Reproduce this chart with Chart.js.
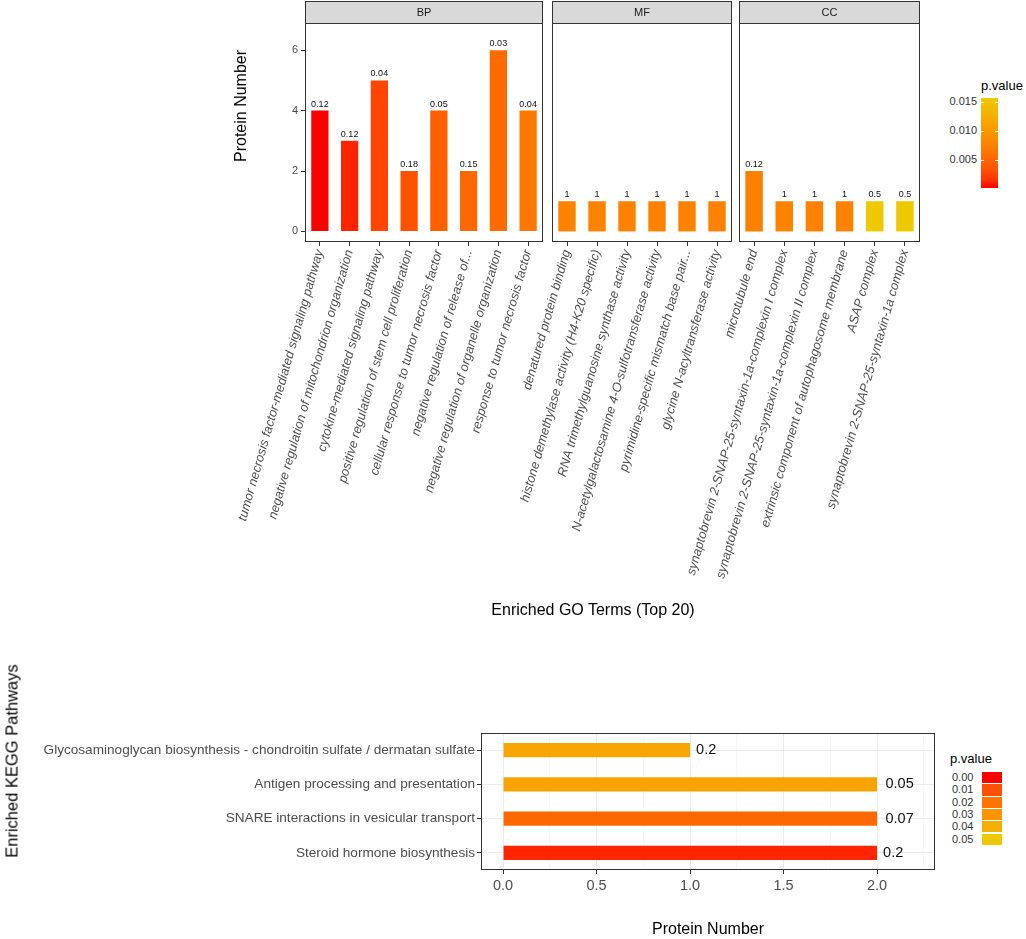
<!DOCTYPE html>
<html>
<head>
<meta charset="utf-8">
<title>Enriched GO Terms and KEGG Pathways</title>
<script src="https://cdn.jsdelivr.net/npm/chart.js@4.4.1/dist/chart.umd.min.js"></script>
<style>
  body { margin: 0; background: #fff; font-family: "Liberation Sans", Arial, sans-serif; }
  #wrap { position: relative; width: 1026px; height: 939px; overflow: hidden; background: #fff; }
  canvas, .txt, .key { position: absolute; }
  .txt { white-space: nowrap; color: #000; }
  .title { font-size: 16px; }
  .rot { transform: translate(-50%, -50%) rotate(-90deg); }
  .legtxt { font-size: 11px; color: #333; }
</style>
</head>
<body>
<div id="wrap">
  <canvas id="bpChart" width="548" height="600" style="left:0;top:0"></canvas>
  <canvas id="mfChart" width="285" height="600" style="left:452px;top:0"></canvas>
  <canvas id="ccChart" width="286" height="600" style="left:639px;top:0"></canvas>
  <canvas id="keggChart" width="940" height="219" style="left:0;top:720px"></canvas>

  <div class="txt title rot" style="left:241px;top:106px">Protein Number</div>
  <div class="txt title" style="left:593px;top:610px;transform:translate(-50%,-50%)">Enriched GO Terms (Top 20)</div>
  <div class="txt title rot" style="left:12px;top:761px;font-size:16.5px">Enriched KEGG Pathways</div>
  <div id="goLegend"></div>
  <div id="keggLegend"></div>
</div>

<script>
// GO terms, one set of arrays per facet
const bpTerms = ['tumor necrosis factor-mediated signaling pathway', 'negative regulation of mitochondrion organization',
  'cytokine-mediated signaling pathway', 'positive regulation of stem cell proliferation',
  'cellular response to tumor necrosis factor', 'negative regulation of release of...',
  'negative regulation of organelle organization', 'response to tumor necrosis factor'];
const bpCounts = [4, 3, 5, 2, 4, 2, 6, 4];
const bpRatio = [0.12, 0.12, 0.04, 0.18, 0.05, 0.15, 0.03, 0.04];
const bpPvalues = [0.00005, 0.0008, 0.0024, 0.0032, 0.0043, 0.0051, 0.0053, 0.0066];

const mfTerms = ['denatured protein binding', 'histone demethylase activity (H4-K20 specific)',
  'RNA trimethylguanosine synthase activity', 'N-acetylgalactosamine 4-O-sulfotransferase activity',
  'pyrimidine-specific mismatch base pair...', 'glycine N-acyltransferase activity'];
const mfCounts = [1, 1, 1, 1, 1, 1];
const mfRatio = [1, 1, 1, 1, 1, 1];
const mfPvalues = [0.0076, 0.0076, 0.0076, 0.0076, 0.0076, 0.0076];

const ccTerms = ['microtubule end', 'synaptobrevin 2-SNAP-25-syntaxin-1a-complexin I complex',
  'synaptobrevin 2-SNAP-25-syntaxin-1a-complexin II complex', 'extrinsic component of autophagosome membrane',
  'ASAP complex', 'synaptobrevin 2-SNAP-25-syntaxin-1a complex'];
const ccCounts = [2, 1, 1, 1, 1, 1];
const ccRatio = [0.12, 1, 1, 1, 0.5, 0.5];
const ccPvalues = [0.0074, 0.0076, 0.0076, 0.0076, 0.0157, 0.0157];

const goTicks = [0, 2, 4, 6];
const goRange = [0.00005, 0.0157];
const goLegendBreaks = [0.005, 0.010, 0.015];

// KEGG pathways (top to bottom)
const keggTerms = ['Glycosaminoglycan biosynthesis - chondroitin sulfate / dermatan sulfate',
  'Antigen processing and presentation', 'SNARE interactions in vesicular transport', 'Steroid hormone biosynthesis'];
const keggCounts = [1, 2, 2, 2];
const keggRatio = [0.2, 0.05, 0.07, 0.2];
const keggPvalues = [0.0365, 0.036, 0.016, 0.0025];
const keggTicks = [0, 0.5, 1, 1.5, 2];
const keggRange = [0, 0.05];
const keggLegendBreaks = [0, 0.01, 0.02, 0.03, 0.04, 0.05];

const FONT = '"Liberation Sans", Arial, sans-serif';

// red -> gold gradient, interpolated in Lab like ggplot does
function hexToLab(hex) {
  const v = [1, 3, 5].map(i => parseInt(hex.substr(i, 2), 16) / 255)
    .map(c => c <= 0.04045 ? c / 12.92 : Math.pow((c + 0.055) / 1.055, 2.4));
  const x = (0.4124 * v[0] + 0.3576 * v[1] + 0.1805 * v[2]) / 0.95047;
  const y = 0.2126 * v[0] + 0.7152 * v[1] + 0.0722 * v[2];
  const z = (0.0193 * v[0] + 0.1192 * v[1] + 0.9505 * v[2]) / 1.08883;
  const f = t => t > 0.008856 ? Math.cbrt(t) : 7.787 * t + 16 / 116;
  return [116 * f(y) - 16, 500 * (f(x) - f(y)), 200 * (f(y) - f(z))];
}
function labToRgb(L, a, b) {
  const fy = (L + 16) / 116, fx = fy + a / 500, fz = fy - b / 200;
  const inv = t => t * t * t > 0.008856 ? t * t * t : (t - 16 / 116) / 7.787;
  const x = inv(fx) * 0.95047, y = inv(fy), z = inv(fz) * 1.08883;
  const lin = [3.2406 * x - 1.5372 * y - 0.4986 * z, -0.9689 * x + 1.8758 * y + 0.0415 * z, 0.0557 * x - 0.2040 * y + 1.0570 * z];
  return lin.map(c => {
    c = Math.min(1, Math.max(0, c));
    c = c <= 0.0031308 ? 12.92 * c : 1.055 * Math.pow(c, 1 / 2.4) - 0.055;
    return Math.round(c * 255);
  });
}
const lowLab = hexToLab('#FF0000');
const highLab = hexToLab('#EEC900');
function pColor(p, range) {
  const t = Math.min(1, Math.max(0, (p - range[0]) / (range[1] - range[0])));
  const c = labToRgb(...lowLab.map((v, i) => v + t * (highLab[i] - v)));
  return 'rgb(' + c.join(',') + ')';
}

// panel border + facet strip
const facetBox = {
  id: 'facetBox',
  afterDraw(chart, args, opts) {
    const { ctx, chartArea: a } = chart;
    ctx.save();
    ctx.lineWidth = 1;
    ctx.strokeStyle = '#333';
    if (opts.strip) {
      ctx.fillStyle = '#d9d9d9';
      ctx.fillRect(a.left, 1, a.right - a.left, a.top - 1);
      ctx.strokeRect(Math.round(a.left) + 0.5, 1.5, Math.round(a.right - a.left) - 1, Math.round(a.top) - 1);
      ctx.fillStyle = '#1a1a1a';
      ctx.font = '11px ' + FONT;
      ctx.textAlign = 'center';
      ctx.textBaseline = 'middle';
      ctx.fillText(opts.strip, (a.left + a.right) / 2, a.top / 2 + 1);
    }
    ctx.strokeRect(Math.round(a.left) + 0.5, Math.round(a.top) + 0.5, Math.round(a.right - a.left) - 1, Math.round(a.bottom - a.top) - 1);
    ctx.restore();
  }
};

// value text next to each bar
const barValues = {
  id: 'barValues',
  afterDatasetsDraw(chart, args, opts) {
    const { ctx } = chart;
    const meta = chart.getDatasetMeta(0);
    const horizontal = chart.options.indexAxis === 'y';
    ctx.save();
    ctx.fillStyle = '#111';
    ctx.font = opts.font;
    meta.data.forEach((bar, i) => {
      const txt = String(opts.values[i]);
      if (horizontal) {
        // hjust = -0.3: gap grows with the text width
        ctx.textAlign = 'left';
        ctx.textBaseline = 'middle';
        ctx.fillText(txt, bar.x + 0.3 * ctx.measureText(txt).width, bar.y);
      } else {
        ctx.textAlign = 'center';
        ctx.textBaseline = 'bottom';
        ctx.fillText(txt, bar.x, bar.y - 2);
      }
    });
    ctx.restore();
  }
};

function goPanel(id, terms, counts, ratios, pvals, strip, showY, padLeft) {
  return new Chart(document.getElementById(id), {
    type: 'bar',
    data: {
      labels: terms,
      datasets: [{
        data: counts,
        backgroundColor: pvals.map(p => pColor(p, goRange)),
        barPercentage: 0.58,
        categoryPercentage: 1
      }]
    },
    options: {
      responsive: false,
      animation: false,
      devicePixelRatio: 1,
      layout: { padding: { left: padLeft, right: 5, top: 23, bottom: 0 } },
      plugins: {
        legend: { display: false },
        tooltip: { enabled: false },
        facetBox: { strip: strip },
        barValues: { values: ratios, font: '9px ' + FONT }
      },
      scales: {
        x: {
          grid: { offset: false, drawOnChartArea: false, tickLength: 4, color: '#333' },
          border: { display: false },
          ticks: {
            autoSkip: false, minRotation: 74, maxRotation: 74, padding: 2, color: '#4d4d4d',
            font: { family: FONT, size: 12.8, style: 'italic' }
          },
          // fixed axis height and no extra side padding, so all facets line up
          afterFit: s => { s.height = 358; s.paddingLeft = 0; s.paddingRight = 0; }
        },
        y: {
          display: showY,
          min: -0.35,
          max: 6.9,
          afterBuildTicks: s => { s.ticks = goTicks.map(v => ({ value: v })); },
          grid: { drawOnChartArea: false, tickLength: 4, color: '#333' },
          border: { display: false },
          ticks: { padding: 3, color: '#4d4d4d', font: { family: FONT, size: 11 } },
          afterFit: s => { s.width = showY ? 74 : 0; }
        }
      }
    },
    plugins: [facetBox, barValues]
  });
}

goPanel('bpChart', bpTerms, bpCounts, bpRatio, bpPvalues, 'BP', true, 231);
goPanel('mfChart', mfTerms, mfCounts, mfRatio, mfPvalues, 'MF', false, 100);
goPanel('ccChart', ccTerms, ccCounts, ccRatio, ccPvalues, 'CC', false, 100);

new Chart(document.getElementById('keggChart'), {
  type: 'bar',
  data: {
    labels: keggTerms,
    datasets: [{
      data: keggCounts,
      backgroundColor: keggPvalues.map(p => pColor(p, keggRange)),
      barPercentage: 0.42,
      categoryPercentage: 1
    }]
  },
  options: {
    indexAxis: 'y',
    responsive: false,
    animation: false,
    devicePixelRatio: 1,
    layout: { padding: { left: 0, right: 5, top: 13, bottom: 0 } },
    plugins: {
      legend: { display: false },
      tooltip: { enabled: false },
      facetBox: {},
      barValues: { values: keggRatio, font: '14.5px ' + FONT }
    },
    scales: {
      x: {
        min: -0.118,
        max: 2.31,
        afterBuildTicks: s => {
          // major ticks plus the minor lines halfway between them
          const t = [];
          keggTicks.forEach((v, i) => {
            t.push({ value: v, major: true });
            if (i < keggTicks.length - 1) t.push({ value: (v + keggTicks[i + 1]) / 2 });
          });
          t.push({ value: keggTicks[keggTicks.length - 1] + 0.25 });
          s.ticks = t;
        },
        grid: {
          color: c => c.tick && c.tick.major ? '#ebebeb' : '#f4f4f4',
          lineWidth: c => c.tick && c.tick.major ? 1 : 0.7,
          tickColor: c => c.tick && c.tick.major ? '#333' : 'rgba(0,0,0,0)',
          tickLength: 4
        },
        border: { display: false },
        ticks: {
          padding: 3, color: '#4d4d4d', font: { family: FONT, size: 14.5 },
          callback: function (v, i, ticks) { return ticks[i].major ? v.toFixed(1) : ''; }
        },
        title: { display: true, text: 'Protein Number', color: '#000', padding: 0, font: { family: FONT, size: 16 } },
        afterFit: s => { s.height = 69; }
      },
      y: {
        grid: { offset: false, color: '#ebebeb', tickColor: '#333', tickLength: 4 },
        border: { display: false },
        ticks: { padding: 2, color: '#4d4d4d', font: { family: FONT, size: 13.6 } },
        afterFit: s => { s.width = 481; }
      }
    }
  },
  plugins: [facetBox, barValues]
});

// legends
function addText(parent, txt, css) {
  const d = document.createElement('div');
  d.className = 'txt legtxt';
  d.textContent = txt;
  Object.assign(d.style, css);
  parent.appendChild(d);
  return d;
}

(function goLegend() {
  const box = document.getElementById('goLegend');
  const top = 98, h = 90, left = 981, w = 17;
  addText(box, 'p.value', { left: left + 'px', top: '78px', fontSize: '13px', color: '#000' });
  const stops = [];
  for (let i = 0; i <= 10; i++) stops.push(pColor(goRange[0] + i / 10 * (goRange[1] - goRange[0]), goRange) + ' ' + (i * 10) + '%');
  const bar = document.createElement('div');
  bar.className = 'key';
  Object.assign(bar.style, { left: left + 'px', top: top + 'px', width: w + 'px', height: h + 'px', background: 'linear-gradient(to top,' + stops.join(',') + ')' });
  box.appendChild(bar);
  goLegendBreaks.forEach(v => {
    const y = top + h - (v - goRange[0]) / (goRange[1] - goRange[0]) * h;
    addText(box, v.toFixed(3), { right: (1026 - left + 4) + 'px', top: (y - 7) + 'px' });
    [left, left + w - 3].forEach(x => {
      const t = document.createElement('div');
      t.className = 'key';
      Object.assign(t.style, { left: x + 'px', top: y + 'px', width: '3px', height: '1px', background: '#fff' });
      box.appendChild(t);
    });
  });
})();

(function keggLegend() {
  const box = document.getElementById('keggLegend');
  const top = 772, left = 982, w = 20, h = 12.3;
  addText(box, 'p.value', { left: '950px', top: '751px', fontSize: '13px', color: '#000' });
  keggLegendBreaks.forEach((v, i) => {
    const k = document.createElement('div');
    k.className = 'key';
    Object.assign(k.style, { left: left + 'px', top: (top + i * h) + 'px', width: w + 'px', height: (h - 1) + 'px', background: pColor(v, keggRange) });
    box.appendChild(k);
    addText(box, v.toFixed(2), { left: '952px', top: (top + i * h - 1) + 'px' });
  });
})();
</script>
</body>
</html>
